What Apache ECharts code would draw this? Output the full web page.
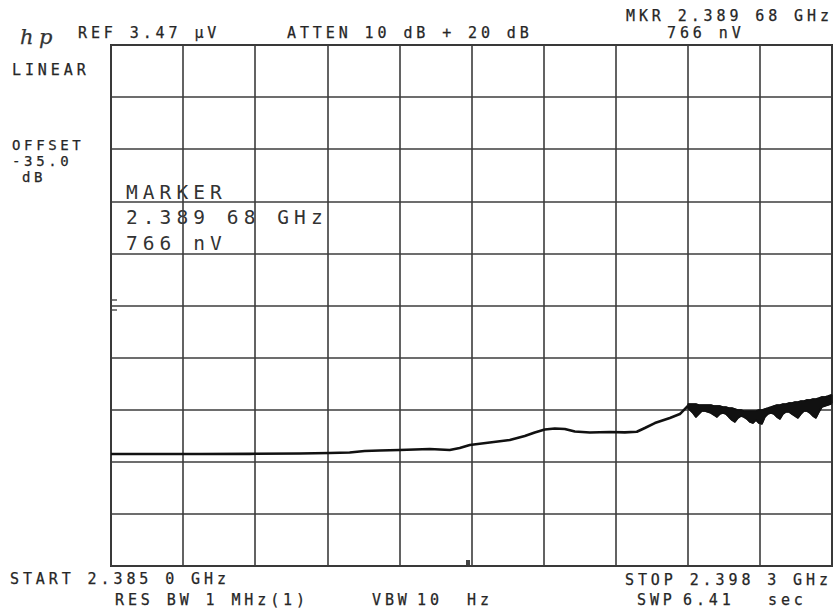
<!DOCTYPE html>
<html>
<head>
<meta charset="utf-8">
<script src="https://cdn.jsdelivr.net/npm/echarts/dist/echarts.min.js"></script>
<style>
  html, body { margin: 0; padding: 0; background: #ffffff; }
  #chart { width: 835px; height: 610px; }
  #chart svg text { letter-spacing: 0.26em; white-space: pre; }
</style>
</head>
<body>
<div id="chart"></div>
<script>
// Sweep: START 2.385 0 GHz, STOP 2.398 3 GHz (values in MHz)
const freqStartMHz = 2385.0;
const freqStopMHz = 2398.3;
// REF 3.47 uV, linear scale (values in nV)
const refLevelNV = 3470;
const divisions = 10;

// Smooth part of the trace: frequencies (MHz) and amplitudes (nV)
const traceFreqMHz = [
  2385.000, 2385.711, 2386.634, 2387.557, 2388.480, 2389.033, 2389.402, 2389.679,
  2389.956, 2390.325, 2390.879, 2391.248, 2391.433, 2391.618, 2391.987, 2392.356,
  2392.633, 2392.817, 2393.002, 2393.187, 2393.371, 2393.556, 2393.833, 2394.202,
  2394.479, 2394.700, 2394.848, 2395.032, 2395.309, 2395.494, 2395.642
];
const traceAmpNV = [
  746, 746, 746, 747, 749, 753, 756, 766,
  769, 773, 779, 773, 786, 806, 822, 839,
  866, 889, 909, 916, 912, 896, 889, 892,
  890, 894, 919, 952, 986, 1012, 1066
];

// Noisy part of the trace: frequencies (MHz), upper and lower envelopes (nV)
const bandFreqMHz = [
  2395.642, 2395.679, 2395.734, 2395.789, 2395.845, 2395.900, 2395.955, 2396.011,
  2396.066, 2396.122, 2396.177, 2396.232, 2396.288, 2396.343, 2396.398, 2396.454,
  2396.509, 2396.565, 2396.620, 2396.675, 2396.731, 2396.786, 2396.841, 2396.897,
  2396.952, 2397.008, 2397.063, 2397.118, 2397.174, 2397.229, 2397.284, 2397.340,
  2397.395, 2397.451, 2397.506, 2397.561, 2397.617, 2397.672, 2397.727, 2397.783,
  2397.838, 2397.894, 2397.949, 2398.004, 2398.060, 2398.115, 2398.171, 2398.226,
  2398.281, 2398.300
];
const bandUpperNV = [
  1079, 1079, 1079, 1079, 1072, 1072, 1072, 1072,
  1072, 1066, 1066, 1066, 1059, 1059, 1052, 1052,
  1046, 1039, 1039, 1032, 1032, 1032, 1032, 1032,
  1039, 1039, 1046, 1052, 1059, 1066, 1072, 1072,
  1079, 1079, 1086, 1086, 1092, 1092, 1099, 1099,
  1106, 1106, 1112, 1112, 1119, 1126, 1126, 1132,
  1139, 1139
];
const bandLowerNV = [
  1052, 1039, 1019, 992, 1012, 1032, 1032, 1026,
  1019, 1006, 992, 1012, 1019, 1012, 992, 972,
  959, 986, 999, 992, 979, 959, 952, 972,
  952, 946, 992, 1012, 1019, 1012, 992, 979,
  1012, 1026, 1026, 1012, 999, 986, 1012, 1032,
  1032, 1019, 999, 986, 1026, 1059, 1066, 1072,
  1079, 1092
];

// Annotation texts
const headerTexts = ["REF 3.47 µV", "ATTEN 10 dB + 20 dB", "MKR 2.389 68 GHz", "766 nV"];
const sideTexts = ["LINEAR", "OFFSET", "-35.0", "dB"];
const markerTexts = ["MARKER", "2.389 68 GHz", "766 nV"];
const footerTexts = ["START 2.385 0 GHz", "RES BW 1 MHz(1)", "VBW", "10", "Hz", "STOP 2.398 3 GHz", "SWP", "6.41", "sec"];

const traceData = traceFreqMHz.map((f, i) => [f, traceAmpNV[i]]);
const upperData = bandFreqMHz.map((f, i) => [f, bandUpperNV[i]]);
const lowerData = bandFreqMHz.map((f, i) => [f, bandLowerNV[i]]);

const FONT = '"DejaVu Sans Mono", "Liberation Mono", monospace';
const small = '15px ' + FONT;
const side = '14px ' + FONT;
const big = '19.5px ' + FONT;
const ink = '#262626';

function txt(text, x, y, font, fill, sw) {
  const c = fill || ink;
  return {
    type: 'text', x: x, y: y, silent: true,
    style: { text: text, font: font, fill: c, stroke: c, lineWidth: sw === undefined ? 0.25 : sw,
      textVerticalAlign: 'middle', verticalAlign: 'middle', textAlign: 'left', align: 'left' }
  };
}
function seg(x1, y1, x2, y2) {
  return { type: 'line', silent: true, shape: { x1: x1, y1: y1, x2: x2, y2: y2 }, style: { stroke: '#555', lineWidth: 1.5 } };
}

const graphics = [
  txt('hp', 20, 37, 'italic 21px "DejaVu Serif", serif', '#333'),
  txt(headerTexts[0], 78, 33, small),
  txt(headerTexts[1], 287, 33, small),
  txt(headerTexts[2], 626, 16, small),
  txt(headerTexts[3], 667, 33, small),
  txt(sideTexts[0], 12, 70, small),
  txt(sideTexts[1], 12, 145, side),
  txt(sideTexts[2], 12, 161, side),
  txt(sideTexts[3], 22, 177, side),
  txt(markerTexts[0], 126, 192, big, '#333', 0),
  txt(markerTexts[1], 126, 217, big, '#333', 0),
  txt(markerTexts[2], 126, 243, big, '#333', 0),
  txt(footerTexts[0], 10, 579, small),
  txt(footerTexts[1], 115, 600, small),
  txt(footerTexts[2], 372, 600, small),
  txt(footerTexts[3], 417, 600, small),
  txt(footerTexts[4], 467, 600, small),
  txt(footerTexts[5], 625, 580, small),
  txt(footerTexts[6], 637, 600, small),
  txt(footerTexts[7], 683, 600, small),
  txt(footerTexts[8], 768, 600, small),
  seg(110, 300, 117, 300),
  seg(110, 310, 117, 310),
  { type: 'rect', silent: true, shape: { x: 466, y: 560, width: 4, height: 5 }, style: { fill: '#444' } }
];

const chart = echarts.init(document.getElementById('chart'), null, { renderer: 'svg' });
const gridLine = { show: true, lineStyle: { color: '#3c3c3c', width: 1.6 } };
chart.setOption({
  animation: false,
  backgroundColor: '#ffffff',
  grid: { left: 111, right: 3, top: 45, bottom: 44, show: true, borderColor: '#333', borderWidth: 2, backgroundColor: 'transparent' },
  xAxis: [
    { type: 'value', min: freqStartMHz, max: freqStopMHz, show: true,
      axisLine: { show: false }, axisTick: { show: false }, axisLabel: { show: false }, splitLine: { show: false } },
    { type: 'value', min: 0, max: divisions, interval: 1, position: 'top',
      axisLine: { show: false }, axisTick: { show: false }, axisLabel: { show: false }, splitLine: gridLine }
  ],
  yAxis: [
    { type: 'value', min: 0, max: refLevelNV, interval: refLevelNV / divisions,
      axisLine: { show: false }, axisTick: { show: false }, axisLabel: { show: false }, splitLine: gridLine }
  ],
  series: [
    { type: 'line', name: 'trace', xAxisIndex: 0, yAxisIndex: 0, data: traceData, showSymbol: false, symbol: 'none',
      lineStyle: { color: '#111', width: 2.6, join: 'round' }, silent: true },
    { type: 'custom', name: 'noiseBand', xAxisIndex: 0, yAxisIndex: 0, silent: true,
      data: [upperData[0]],
      renderItem: function (params, api) {
        const pts = [];
        for (let i = 0; i < upperData.length; i++) pts.push(api.coord(upperData[i]));
        for (let i = lowerData.length - 1; i >= 0; i--) pts.push(api.coord(lowerData[i]));
        return { type: 'polygon', shape: { points: pts }, style: { fill: '#111', stroke: '#111', lineWidth: 1.2, lineJoin: 'round' } };
      }
    },
    { type: 'line', name: 'upper', xAxisIndex: 0, yAxisIndex: 0, data: upperData, showSymbol: false, symbol: 'none',
      lineStyle: { color: '#111', width: 1.6 }, silent: true },
    { type: 'line', name: 'lower', xAxisIndex: 0, yAxisIndex: 0, data: lowerData, showSymbol: false, symbol: 'none',
      lineStyle: { color: '#111', width: 1.6 }, silent: true }
  ],
  graphic: graphics
});
</script>
</body>
</html>
